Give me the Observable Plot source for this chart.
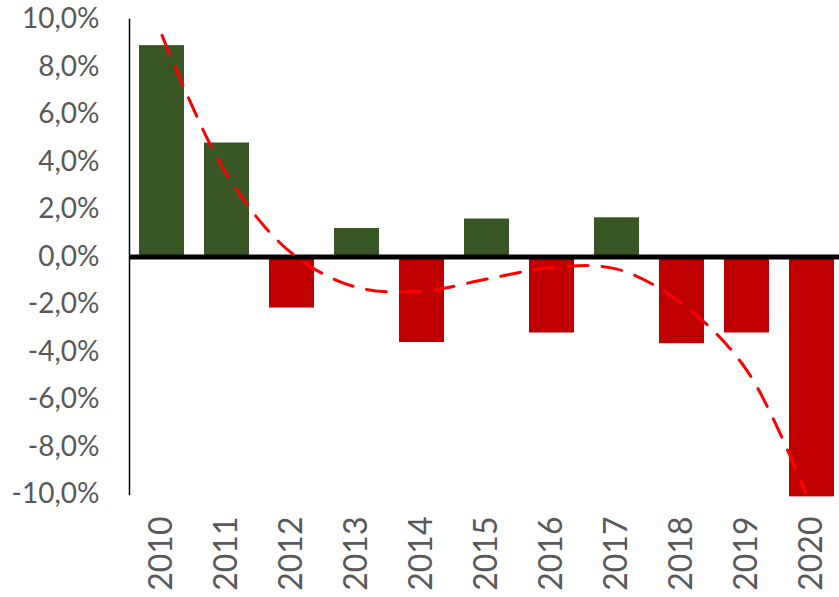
<!DOCTYPE html>
<html>
<head>
<meta charset="utf-8">
<script src="https://cdn.jsdelivr.net/npm/d3@7"></script>
<script src="https://cdn.jsdelivr.net/npm/@observablehq/plot@0.6"></script>
<style>
  html, body { margin: 0; padding: 0; background: #fff; }
  #chart { width: 839px; height: 597px; }
</style>
</head>
<body>
<div id="chart"></div>
<script>
const years = ["2010","2011","2012","2013","2014","2015","2016","2017","2018","2019","2020"];
const growth = [8.9, 4.8, -2.15, 1.2, -3.6, 1.6, -3.2, 1.65, -3.65, -3.2, -10.1];
const trend = [9.33, 3.45, 0.15, -1.28, -1.44, -0.93, -0.44, -0.51, -1.97, -4.78, -10.6];
const yTicks = [-10, -8, -6, -4, -2, 0, 2, 4, 6, 8, 10];

const data = years.map((y, i) => ({year: y, value: growth[i], trend: trend[i]}));
const fmt = d => d.toFixed(1).replace(".", ",") + "%";

const chart = Plot.plot({
  width: 839,
  height: 597,
  marginTop: 19,
  marginBottom: 103,
  marginLeft: 129,
  marginRight: 0,
  style: {fontFamily: "Lato, 'Open Sans', sans-serif", background: "#fff"},
  x: {domain: years, range: [129, 844], paddingInner: 0.3077, paddingOuter: 0.1538, axis: null},
  y: {domain: [-10, 10], axis: null},
  marks: [
    Plot.barY(data, {x: "year", y: "value", fill: d => d.value >= 0 ? "#375623" : "#C00000"}),
    Plot.ruleY([0], {stroke: "#000", strokeWidth: 5}),
    Plot.frame({anchor: "left", stroke: "#000", strokeWidth: 1.5}),
    Plot.line(data, {x: "year", y: "trend", stroke: "#FF0000", strokeWidth: 3,
      strokeDasharray: "20,14", strokeLinecap: "round", curve: "catmull-rom", clip: true}),
    Plot.axisY({ticks: yTicks, tickSize: 0, tickPadding: 30, tickFormat: fmt,
      fontSize: 28, fill: "#595959", label: null}),
    Plot.axisX({tickSize: 0, tickPadding: 22, tickRotate: -90, fontSize: 32,
      fill: "#595959", label: null})
  ]
});
document.getElementById("chart").appendChild(chart);
</script>
</body>
</html>
